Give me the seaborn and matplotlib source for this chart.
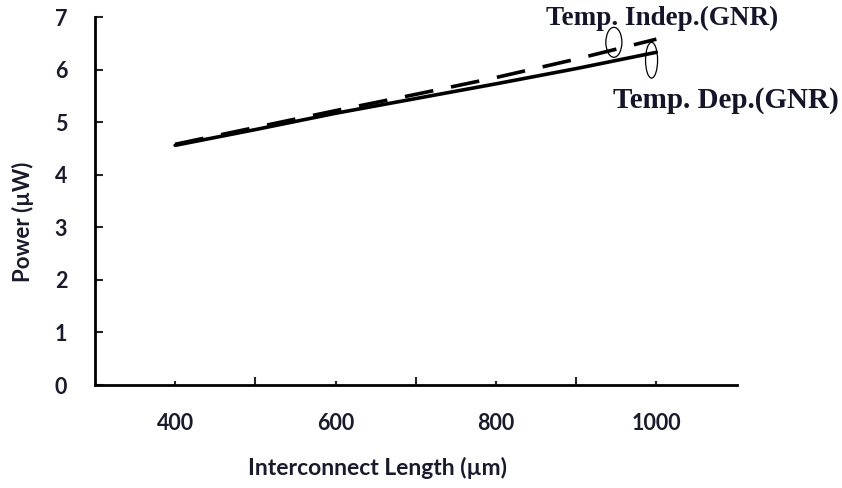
import matplotlib
matplotlib.use("Agg")
import matplotlib.pyplot as plt
from matplotlib.patches import Ellipse
from matplotlib.ticker import MultipleLocator, FixedLocator
import seaborn as sns
import pandas as pd

length_um = [400, 500, 600, 700, 800, 900, 1000]
power_dep = [4.56, 4.86, 5.17, 5.45, 5.73, 6.02, 6.33]
power_indep = [4.58, 4.90, 5.22, 5.53, 5.85, 6.20, 6.58]
x_tick_labels = [400, 600, 800, 1000]

sns.set_theme(style="white")
plt.rcParams["font.family"] = ["Lato", "DejaVu Sans"]

df = pd.DataFrame({"length": length_um, "dep": power_dep, "indep": power_indep})

fig = plt.figure(figsize=(8.42, 4.88), dpi=100)
ax = fig.add_axes([0.1128, 0.211, 0.762, 0.754])

sns.lineplot(data=df, x="length", y="indep", ax=ax, color="black",
             linewidth=2.6, linestyle=(0, (8, 5)))
sns.lineplot(data=df, x="length", y="dep", ax=ax, color="black", linewidth=2.6)

ax.set_xlim(300, 1100)
ax.set_ylim(0, 7)
ax.xaxis.set_major_locator(FixedLocator(x_tick_labels))
ax.xaxis.set_minor_locator(FixedLocator([500, 700, 900]))
ax.yaxis.set_major_locator(MultipleLocator(1))
ax.tick_params(axis="x", which="major", direction="in", length=3, width=1.5,
               bottom=True, pad=20)
ax.tick_params(axis="x", which="minor", direction="in", length=6, width=1.5,
               bottom=True)
ax.tick_params(axis="y", direction="in", length=6, width=1.5, left=True, pad=20)
for lab in ax.get_xticklabels() + ax.get_yticklabels():
    lab.set_fontweight("bold")
    lab.set_fontsize(15.5)
    lab.set_color("#1a1a2e")

for side in ["top", "right"]:
    ax.spines[side].set_visible(False)
for side in ["left", "bottom"]:
    ax.spines[side].set_color("black")
    ax.spines[side].set_linewidth(2)

ax.set_xlabel("Interconnect Length (µm)", fontsize=16.5, fontweight="bold",
              color="#1a1a2e")
ax.xaxis.set_label_coords(0.44, -0.195)
ax.set_ylabel("Power (µW)", fontsize=16, fontweight="bold", color="#1a1a2e")
ax.yaxis.set_label_coords(-0.095, 0.443)

serif = ["Liberation Serif", "DejaVu Serif"]
ax.text(862, 6.98, "Temp. Indep.(GNR)", fontsize=19.5, fontweight="bold",
        family=serif, color="#14142b", ha="left", va="center", clip_on=False)
ax.add_patch(Ellipse((947, 6.52), 20, 0.57, fill=False, edgecolor="black", lw=0.9))
ax.add_patch(Ellipse((994, 6.18), 15, 0.68, fill=False, edgecolor="black", lw=0.9))
ax.text(1228, 5.42, "Temp. Dep.(GNR)", fontsize=21, fontweight="bold",
        family=serif, color="#14142b", ha="right", va="center", clip_on=False)

fig.savefig("out.png", dpi=100)
